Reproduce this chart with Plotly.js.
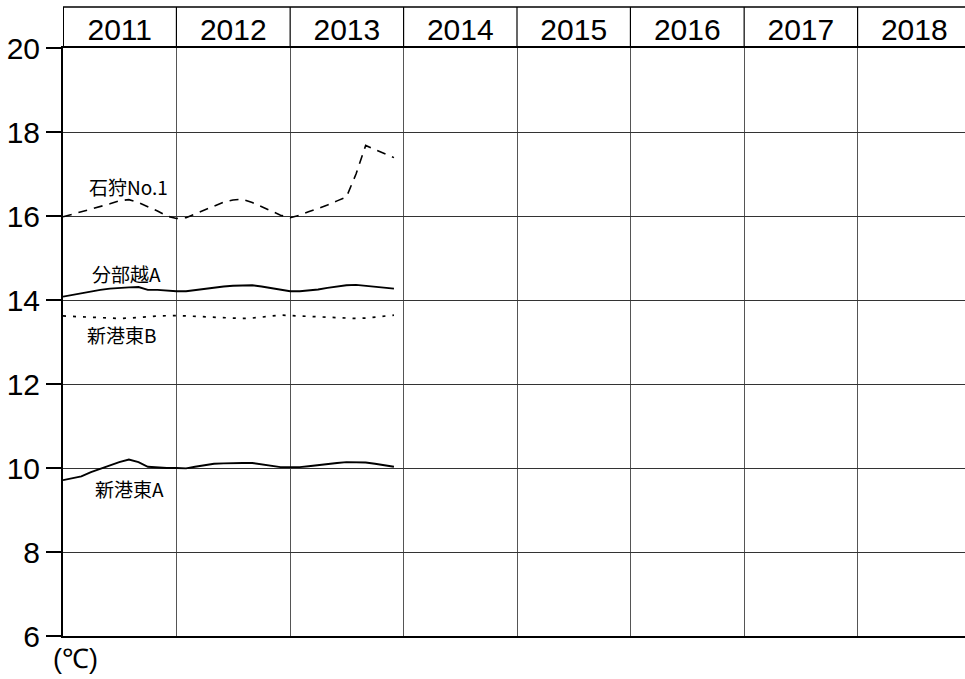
<!DOCTYPE html>
<html><head><meta charset="utf-8">
<script src="https://cdn.plot.ly/plotly-3.0.1.min.js"></script>
<style>html,body{margin:0;padding:0;overflow:hidden;background:#fff}#chart{width:972px;height:679px}</style>
</head><body><div id="chart"></div>
<script>
// Year columns
const years = ['2011','2012','2013','2014','2015','2016','2017','2018'];
// Months with data (Jan 2011 – Dec 2013)
const dataYears = ['2011','2012','2013'];
const monthNums = ['01','02','03','04','05','06','07','08','09','10','11','12'];
const months = [];
dataYears.forEach(y => monthNums.forEach(m => months.push(y + '-' + m)));

// Monthly temperatures (°C)
const ishikariNo1 = [15.98,16.04,16.10,16.17,16.23,16.29,16.36,16.39,16.32,16.22,16.12,16.00,
                     15.94,15.96,16.05,16.15,16.25,16.33,16.38,16.40,16.32,16.22,16.12,16.02,
                     15.96,16.02,16.10,16.18,16.26,16.36,16.45,17.00,17.68,17.58,17.48,17.39];
const wakeoiA    = [14.08,14.12,14.17,14.21,14.24,14.27,14.29,14.30,14.31,14.24,14.24,14.22,
                     14.21,14.21,14.24,14.26,14.29,14.32,14.34,14.35,14.35,14.32,14.28,14.24,
                     14.21,14.21,14.23,14.25,14.29,14.32,14.35,14.36,14.34,14.31,14.29,14.27];
const shinkoHigashiB = [13.62,13.61,13.60,13.58,13.57,13.56,13.56,13.57,13.58,13.60,13.62,13.63,
                        13.63,13.62,13.61,13.60,13.58,13.57,13.56,13.56,13.57,13.59,13.62,13.64,
                        13.63,13.62,13.61,13.60,13.58,13.57,13.56,13.56,13.57,13.59,13.62,13.64];
const shinkoHigashiA = [9.71,9.75,9.80,9.90,9.98,10.06,10.14,10.20,10.14,10.03,10.01,10.00,
                        10.00,9.99,10.03,10.07,10.10,10.11,10.12,10.12,10.12,10.09,10.05,10.02,
                        10.02,10.02,10.04,10.07,10.10,10.12,10.14,10.14,10.13,10.10,10.06,10.03];
const seriesNames = ['石狩No.1','分部越A','新港東B','新港東A'];
const yTicks = [6,8,10,12,14,16,18,20];

const numFont = 'Liberation Sans, Arial, sans-serif';
const jpFont = 'Noto Sans CJK JP, sans-serif';

const traces = [
  {x: months, y: ishikariNo1, name: seriesNames[0], mode:'lines', line:{color:'#000', width:1.6, dash:'9px,7px'}},
  {x: months, y: wakeoiA, name: seriesNames[1], mode:'lines', line:{color:'#000', width:1.9}},
  {x: months, y: shinkoHigashiB, name: seriesNames[2], mode:'lines', line:{color:'#000', width:1.7, dash:'3px,7px'}},
  {x: months, y: shinkoHigashiA, name: seriesNames[3], mode:'lines', line:{color:'#000', width:1.9}}
];

const headerTop = 1 + 41/588;
const shapes = [];
years.forEach((y, i) => {
  shapes.push({type:'line', xref:'x', yref:'paper', x0: y + '-01-01', x1: y + '-01-01', y0: 1, y1: headerTop,
               line:{color:'#000', width: i === 0 ? 2 : 1.2}});
});
shapes.push({type:'line', xref:'paper', yref:'paper', x0:0, x1:1, y0:headerTop, y1:headerTop, line:{color:'#000', width:1.5}});

const lblFont = {family:jpFont, size:19, color:'#000'};
const annotations = [
  {xref:'paper', yref:'y', x:0.0716, y:16.71, xanchor:'center', yanchor:'middle', text:seriesNames[0], showarrow:false, font:lblFont},
  {xref:'paper', yref:'y', x:0.0694, y:14.64, xanchor:'center', yanchor:'middle', text:seriesNames[1], showarrow:false, font:lblFont},
  {xref:'paper', yref:'y', x:0.0639, y:13.17, xanchor:'center', yanchor:'middle', text:seriesNames[2], showarrow:false, font:lblFont},
  {xref:'paper', yref:'y', x:0.0727, y:9.52, xanchor:'center', yanchor:'middle', text:seriesNames[3], showarrow:false, font:lblFont},
  {xref:'paper', yref:'paper', x:-0.013, y:-0.010, xanchor:'left', yanchor:'top', text:'(℃)', showarrow:false, font:{family:numFont, size:27, color:'#000'}}
];

const layout = {
  width: 972, height: 679,
  margin: {l:63, r:1, t:48, b:43, pad:0},
  paper_bgcolor:'#fff', plot_bgcolor:'#fff',
  showlegend:false,
  xaxis: {
    type:'date', range:['2011-01-01','2019-01-01'], side:'top',
    dtick:'M12', tick0:'2011-01-01', ticklabelmode:'period', tickformat:'%Y',
    ticks:'', showgrid:true, gridcolor:'#555', gridwidth:1,
    showline:true, mirror:true, linecolor:'#000', linewidth:2,
    tickfont:{family:numFont, size:30, color:'#000'}, ticklabelstandoff:-6,
    zeroline:false, fixedrange:true
  },
  yaxis: {
    range:[6,20], tickvals:yTicks, ticktext:yTicks.map(String),
    ticks:'outside', ticklen:15, tickwidth:1.5, tickcolor:'#000',
    showgrid:true, gridcolor:'#333', gridwidth:1,
    showline:true, linecolor:'#000', linewidth:2, zeroline:false,
    tickfont:{family:numFont, size:30, color:'#000'}, ticklabelstandoff:0,
    fixedrange:true
  },
  shapes: shapes,
  annotations: annotations
};

Plotly.newPlot('chart', traces, layout, {staticPlot:true, displayModeBar:false});
</script></body></html>
